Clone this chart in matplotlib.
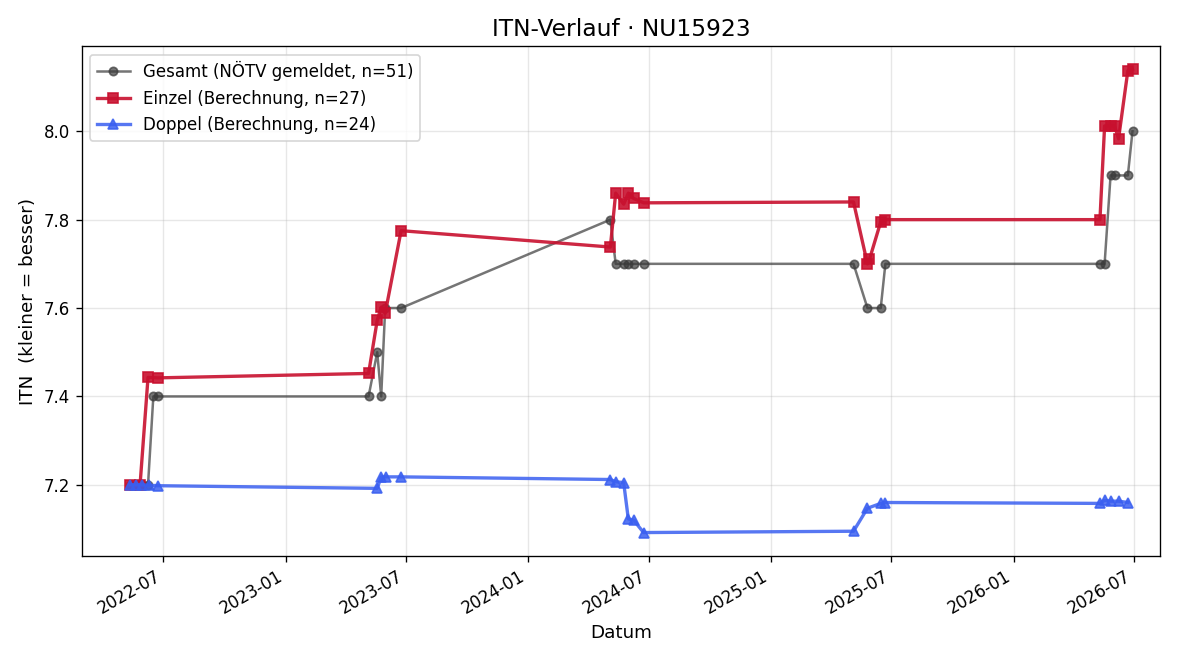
import matplotlib
matplotlib.use("Agg")
import matplotlib.pyplot as plt
import matplotlib.dates as mdates
import pandas as pd

# Gesamt (NÖTV gemeldet)
gesamt_dates = [
    "2022-05-12", "2022-05-21", "2022-05-27", "2022-05-30", "2022-06-08",
    "2022-06-16", "2022-06-23",
    "2023-05-06", "2023-05-19", "2023-05-25", "2023-05-31", "2023-06-24",
    "2024-05-04", "2024-05-12", "2024-05-24", "2024-05-31", "2024-06-08", "2024-06-23",
    "2025-05-05", "2025-05-26", "2025-06-15", "2025-06-22",
    "2026-05-11", "2026-05-18", "2026-05-27", "2026-06-02", "2026-06-22", "2026-06-29",
]
gesamt_itn = [
    7.2, 7.2, 7.2, 7.2, 7.2,
    7.4, 7.4,
    7.4, 7.5, 7.4, 7.6, 7.6,
    7.8, 7.7, 7.7, 7.7, 7.7, 7.7,
    7.7, 7.6, 7.6, 7.7,
    7.7, 7.7, 7.9, 7.9, 7.9, 8.0,
]

# Einzel (Berechnung)
einzel_dates = [
    "2022-05-12", "2022-05-27", "2022-06-08", "2022-06-23",
    "2023-05-06", "2023-05-19", "2023-05-25", "2023-05-31", "2023-06-24",
    "2024-05-04", "2024-05-12", "2024-05-24", "2024-05-31", "2024-06-08", "2024-06-23",
    "2025-05-05", "2025-05-26", "2025-05-29", "2025-06-15", "2025-06-22",
    "2026-05-11", "2026-05-18", "2026-05-27", "2026-06-02", "2026-06-08",
    "2026-06-22", "2026-06-29",
]
einzel_itn = [
    7.200, 7.200, 7.443, 7.442,
    7.452, 7.572, 7.602, 7.588, 7.775,
    7.738, 7.860, 7.835, 7.860, 7.848, 7.838,
    7.840, 7.700, 7.710, 7.795, 7.800,
    7.800, 8.012, 8.012, 8.012, 7.983,
    8.137, 8.140,
]

# Doppel (Berechnung)
doppel_dates = [
    "2022-05-12", "2022-05-21", "2022-05-30", "2022-06-10", "2022-06-23",
    "2023-05-19", "2023-05-25", "2023-06-01", "2023-06-24",
    "2024-05-04", "2024-05-12", "2024-05-24", "2024-05-31", "2024-06-08", "2024-06-23",
    "2025-05-05", "2025-05-26", "2025-06-15", "2025-06-22",
    "2026-05-11", "2026-05-18", "2026-05-27", "2026-06-08", "2026-06-22",
]
doppel_itn = [
    7.200, 7.200, 7.200, 7.199, 7.198,
    7.192, 7.218, 7.218, 7.218,
    7.212, 7.207, 7.205, 7.123, 7.120, 7.092,
    7.095, 7.147, 7.158, 7.160,
    7.158, 7.165, 7.163, 7.163, 7.160,
]

fig, ax = plt.subplots(figsize=(10, 5.5), dpi=120)

ax.plot(pd.to_datetime(gesamt_dates), gesamt_itn, color="#3a3a3a", alpha=0.7,
        marker="o", markersize=5, linewidth=1.5,
        label="Gesamt (NÖTV gemeldet, n=51)")
ax.plot(pd.to_datetime(einzel_dates), einzel_itn, color="#c8102e", alpha=0.9,
        marker="s", markersize=6, linewidth=2,
        label=f"Einzel (Berechnung, n={len(einzel_itn)})")
ax.plot(pd.to_datetime(doppel_dates), doppel_itn, color="#3a5ff0", alpha=0.85,
        marker="^", markersize=6, linewidth=2,
        label=f"Doppel (Berechnung, n={len(doppel_itn)})")

ax.set_title("ITN-Verlauf · NU15923", fontsize=14)
ax.set_xlabel("Datum", fontsize=11)
ax.set_ylabel("ITN  (kleiner = besser)", fontsize=11)
ax.grid(True, alpha=0.3)
ax.legend(loc="upper left", fontsize=10)

ax.set_xlim(pd.Timestamp("2022-02-28"), pd.Timestamp("2026-08-10"))
ax.xaxis.set_major_locator(mdates.MonthLocator(bymonth=[1, 7]))
ax.xaxis.set_major_formatter(mdates.DateFormatter("%Y-%m"))
fig.autofmt_xdate()

fig.subplots_adjust(left=0.068, right=0.967, top=0.930, bottom=0.158)
plt.savefig("out.png")
